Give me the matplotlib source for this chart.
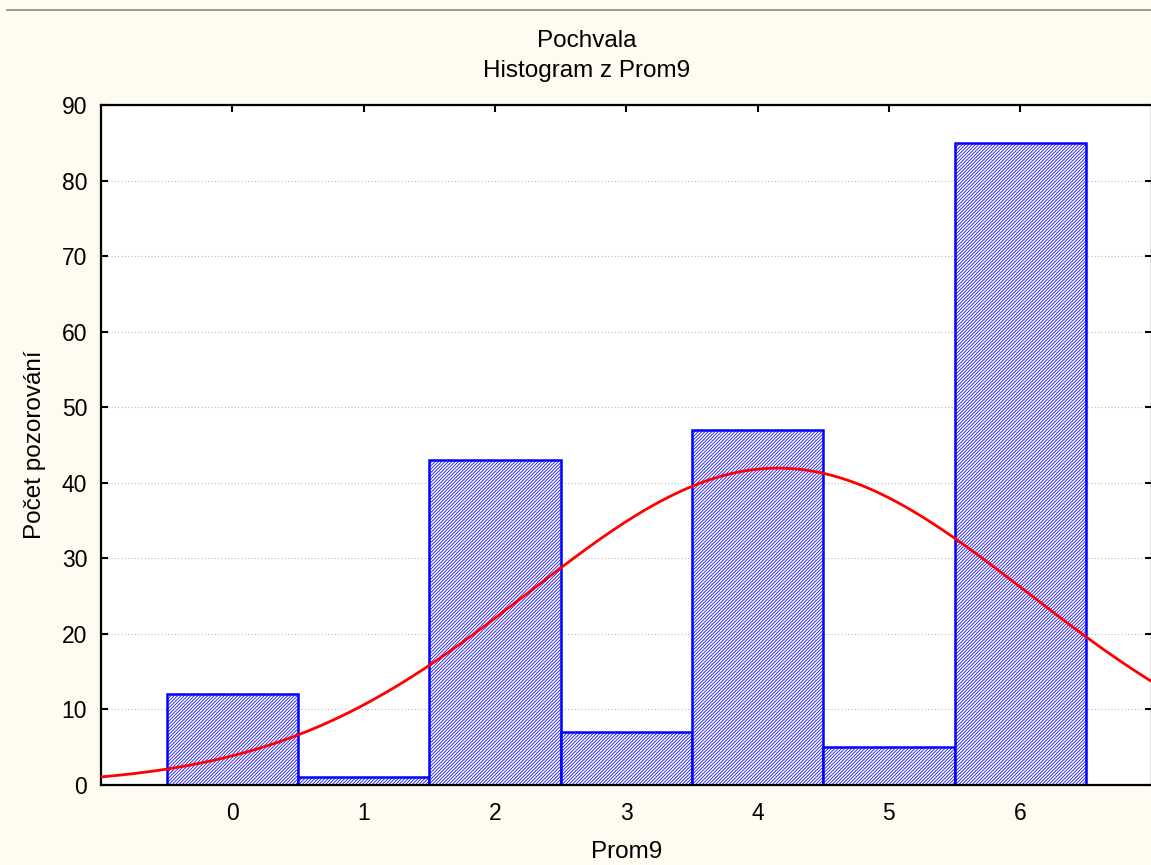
import numpy as np
import matplotlib
matplotlib.use("Agg")
import matplotlib.pyplot as plt
from matplotlib.lines import Line2D

plt.rcParams['font.family'] = ['Liberation Sans', 'DejaVu Sans']
plt.rcParams['hatch.linewidth'] = 0.55

# histogram of Prom9 (values 0..6)
values = [0, 1, 2, 3, 4, 5, 6]
counts = [12, 1, 43, 7, 47, 5, 85]
yticks = [0, 10, 20, 30, 40, 50, 60, 70, 80, 90]

vals = np.array(values, dtype=float)
cnts = np.array(counts, dtype=float)
n = cnts.sum()
mean = (vals * cnts).sum() / n
sd = np.sqrt(((vals - mean) ** 2 * cnts).sum() / (n - 1))

fig = plt.figure(figsize=(11.51, 8.65), dpi=100)
fig.patch.set_facecolor('#fefcf1')
ax = fig.add_axes([101 / 1151, 1 - 785 / 865, 1 - 101 / 1151 + 0.0005, 680 / 865])
ax.set_facecolor('white')

ax.bar(vals, cnts, width=1.0, color='white', edgecolor='blue', hatch='//////////',
       linewidth=1.8, zorder=2)

# expected normal curve scaled to counts (bin width 1)
xs = np.linspace(-1, 7, 400)
ys = n / (sd * np.sqrt(2 * np.pi)) * np.exp(-0.5 * ((xs - mean) / sd) ** 2)
ax.plot(xs, ys, color='red', lw=2.0, zorder=3)

ax.set_xlim(-1, 7)
ax.set_ylim(0, 90)
ax.set_xticks(values)
ax.set_yticks(yticks)
ax.yaxis.grid(True, color='#bdbdbd', lw=0.8, linestyle=(0, (1, 2)))
ax.set_axisbelow(True)

ax.tick_params(direction='in', length=5, width=1.5, top=True, right=True,
               labelsize=16.5, colors='black')
ax.tick_params(axis='x', pad=12)
ax.tick_params(axis='y', pad=10)
for s in ax.spines.values():
    s.set_linewidth(1.6)

ax.set_xlabel('Prom9', fontsize=17.5, labelpad=12)
ax.set_ylabel('Počet pozorování', fontsize=17.5, labelpad=11)

fig.text(587 / 1151, 1 - 41 / 865, 'Pochvala', ha='center', va='center', fontsize=17.5)
fig.text(587 / 1151, 1 - 71 / 865, 'Histogram z Prom9', ha='center', va='center', fontsize=17.5)

fig.add_artist(Line2D([7 / 1151, 1], [1 - 9.5 / 865, 1 - 9.5 / 865],
                      color='#888888', lw=1.2, transform=fig.transFigure))

fig.savefig('out.png', dpi=100, facecolor=fig.get_facecolor())
